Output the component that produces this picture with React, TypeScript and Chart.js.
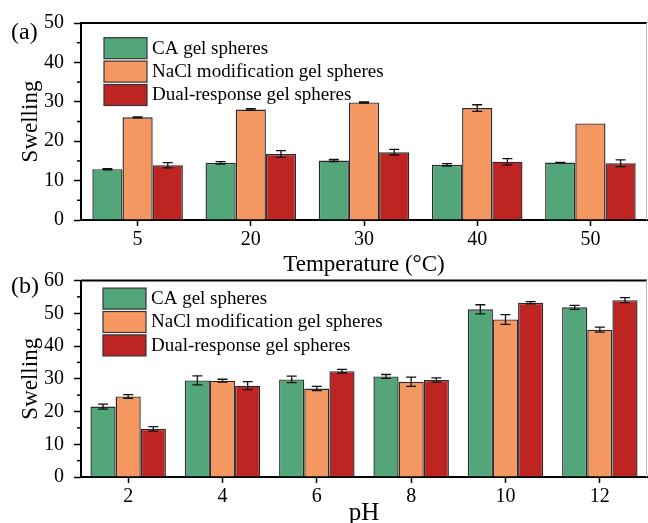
import React, { useEffect, useRef } from "react";
import { Chart, registerables } from "chart.js";
Chart.register(...registerables);

const SERIES_LABELS = ["CA gel spheres", "NaCl modification gel spheres", "Dual-response gel spheres"];
const COLORS = ["rgb(83,166,121)", "rgb(245,151,96)", "rgb(190,36,33)"];

// Panel (a): temperature
const tempCategories = ["5", "20", "30", "40", "50"];
const tempCA = [12.9, 14.5, 15.1, 14.0, 14.6];
const tempCAErr = [0.15, 0.3, 0.25, 0.3, 0.05];
const tempNaCl = [26.05, 28.05, 29.85, 28.4, 24.5];
const tempNaClErr = [0.1, 0.2, 0.15, 0.85, 0];
const tempDual = [13.9, 16.75, 17.2, 14.8, 14.4];
const tempDualErr = [0.65, 0.85, 0.7, 0.8, 0.85];

// Panel (b): pH
const phCategories = ["2", "4", "6", "8", "10", "12"];
const phCA = [21.5, 29.5, 29.8, 30.7, 51.2, 51.8];
const phCAErr = [0.75, 1.4, 1.0, 0.6, 1.4, 0.6];
const phNaCl = [24.6, 29.4, 27.0, 29.1, 48.1, 45.0];
const phNaClErr = [0.55, 0.45, 0.65, 1.4, 1.5, 0.75];
const phDual = [14.7, 27.9, 32.3, 29.6, 53.2, 54.0];
const phDualErr = [0.7, 1.2, 0.55, 0.65, 0.35, 0.75];

const FONT = "'Liberation Serif', 'Times New Roman', serif";

const decorPlugin = {
  id: "decor",
  afterDatasetsDraw(chart: any) {
    const ctx = chart.ctx;
    const ys = chart.scales.y;
    ctx.save();
    ctx.strokeStyle = "#111";
    ctx.lineWidth = 1.3;
    chart.data.datasets.forEach((ds: any, i: number) => {
      const meta = chart.getDatasetMeta(i);
      meta.data.forEach((bar: any, j: number) => {
        const v = ds.data[j];
        const e = ds.errors ? ds.errors[j] : 0;
        if (!e) return;
        const yt = ys.getPixelForValue(v + e);
        const yb = ys.getPixelForValue(v - e);
        const x = bar.x;
        const cw = 5;
        ctx.beginPath();
        ctx.moveTo(x, yt);
        ctx.lineTo(x, yb);
        ctx.moveTo(x - cw, yt);
        ctx.lineTo(x + cw, yt);
        ctx.moveTo(x - cw, yb);
        ctx.lineTo(x + cw, yb);
        ctx.stroke();
      });
    });
    ctx.restore();
  },
  afterDraw(chart: any, _args: any, opts: any) {
    const ctx = chart.ctx;
    const a = chart.chartArea;
    const ys = chart.scales.y;
    ctx.save();
    // frame: top black, right grey
    ctx.strokeStyle = "#000";
    ctx.lineWidth = 2;
    ctx.beginPath();
    ctx.moveTo(a.left, a.top);
    ctx.lineTo(a.right, a.top);
    ctx.stroke();
    ctx.strokeStyle = "#bbb";
    ctx.lineWidth = 1;
    ctx.beginPath();
    ctx.moveTo(a.right - 0.5, a.top);
    ctx.lineTo(a.right - 0.5, a.bottom);
    ctx.stroke();
    // minor ticks
    ctx.strokeStyle = "#000";
    ctx.lineWidth = 1.5;
    for (let v = ys.min + 5; v < ys.max; v += 10) {
      const y = ys.getPixelForValue(v);
      ctx.beginPath();
      ctx.moveTo(a.left - 4, y);
      ctx.lineTo(a.left, y);
      ctx.stroke();
    }
    // legend
    const lx = a.left + opts.legendDx;
    let ly = a.top + opts.legendDy;
    ctx.font = `19px ${FONT}`;
    ctx.textBaseline = "middle";
    ctx.textAlign = "left";
    chart.data.datasets.forEach((ds: any) => {
      ctx.fillStyle = ds.backgroundColor;
      ctx.fillRect(lx, ly, 43, 21);
      ctx.strokeStyle = "#333";
      ctx.lineWidth = 1.2;
      ctx.strokeRect(lx, ly, 43, 21);
      ctx.fillStyle = "#000";
      ctx.fillText(ds.label, lx + 48, ly + 11);
      ly += 23.4;
    });
    // panel label
    ctx.font = `24px ${FONT}`;
    ctx.fillStyle = "#000";
    ctx.textBaseline = "middle";
    ctx.fillText(opts.panel, 11, opts.panelY);
    ctx.restore();
  },
};

function makeConfig(
  categories: string[],
  series: number[][],
  errors: number[][],
  yMax: number,
  xTitle: string,
  xTitleSize: number,
  xTitlePad: number,
  padTop: number,
  xAxisHeight: number,
  decor: any
) {
  return {
    type: "bar" as const,
    data: {
      labels: categories,
      datasets: series.map((d, i) => ({
        label: SERIES_LABELS[i],
        data: d,
        errors: errors[i],
        backgroundColor: COLORS[i],
        borderColor: "#2a2a2a",
        borderWidth: 1.4,
        categoryPercentage: 0.8,
        barPercentage: 1.0,
      })),
    },
    options: {
      responsive: false,
      animation: false,
      devicePixelRatio: 1,
      events: [],
      layout: { padding: { top: padTop, right: 1, left: 0, bottom: 0 } },
      plugins: {
        legend: { display: false },
        tooltip: { enabled: false },
        decor,
      },
      scales: {
        x: {
          offset: true,
          afterFit: (s: any) => {
            s.height = xAxisHeight;
          },
          grid: {
            display: true,
            offset: false,
            drawOnChartArea: false,
            drawTicks: true,
            tickLength: 6,
            tickColor: "#000",
            tickWidth: 1.5,
          },
          border: { display: true, color: "#000", width: 2 },
          ticks: { color: "#000", font: { family: FONT, size: 20 }, padding: 2 },
          title: {
            display: true,
            text: xTitle,
            color: "#000",
            font: { family: FONT, size: xTitleSize },
            padding: { top: 0, bottom: xTitlePad },
          },
        },
        y: {
          min: 0,
          max: yMax,
          afterFit: (s: any) => {
            s.width = 81;
          },
          grid: {
            display: true,
            drawOnChartArea: false,
            drawTicks: true,
            tickLength: 7,
            tickColor: "#000",
            tickWidth: 1.5,
          },
          border: { display: true, color: "#000", width: 2 },
          ticks: { stepSize: 10, color: "#000", font: { family: FONT, size: 20 }, padding: 10 },
          title: {
            display: true,
            text: "Swelling",
            color: "#000",
            font: { family: FONT, size: 23 },
            padding: { top: 17, bottom: 0 },
          },
        },
      },
    },
    plugins: [decorPlugin],
  };
}

export default function App() {
  const refA = useRef<HTMLCanvasElement | null>(null);
  const refB = useRef<HTMLCanvasElement | null>(null);

  useEffect(() => {
    const chartA = new Chart(
      refA.current as HTMLCanvasElement,
      makeConfig(
        tempCategories,
        [tempCA, tempNaCl, tempDual],
        [tempCAErr, tempNaClErr, tempDualErr],
        50,
        "Temperature (°C)",
        23,
        6,
        23,
        65,
        { panel: "(a)", panelY: 33, legendDx: 23, legendDy: 14.7 }
      ) as any
    );
    const chartB = new Chart(
      refB.current as HTMLCanvasElement,
      makeConfig(
        phCategories,
        [phCA, phNaCl, phDual],
        [phCAErr, phNaClErr, phDualErr],
        60,
        "pH",
        25,
        -5.5,
        22.5,
        46,
        { panel: "(b)", panelY: 28.5, legendDx: 22, legendDy: 7.6 }
      ) as any
    );
    return () => {
      chartA.destroy();
      chartB.destroy();
    };
  }, []);

  return (
    <div
      style={{
        position: "absolute",
        left: 0,
        top: 0,
        width: 648,
        height: 523,
        overflow: "hidden",
        background: "#fff",
      }}
    >
      <canvas ref={refA} width={648} height={285} style={{ position: "absolute", left: 0, top: 0 }} />
      <canvas ref={refB} width={648} height={265} style={{ position: "absolute", left: 0, top: 258 }} />
    </div>
  );
}
